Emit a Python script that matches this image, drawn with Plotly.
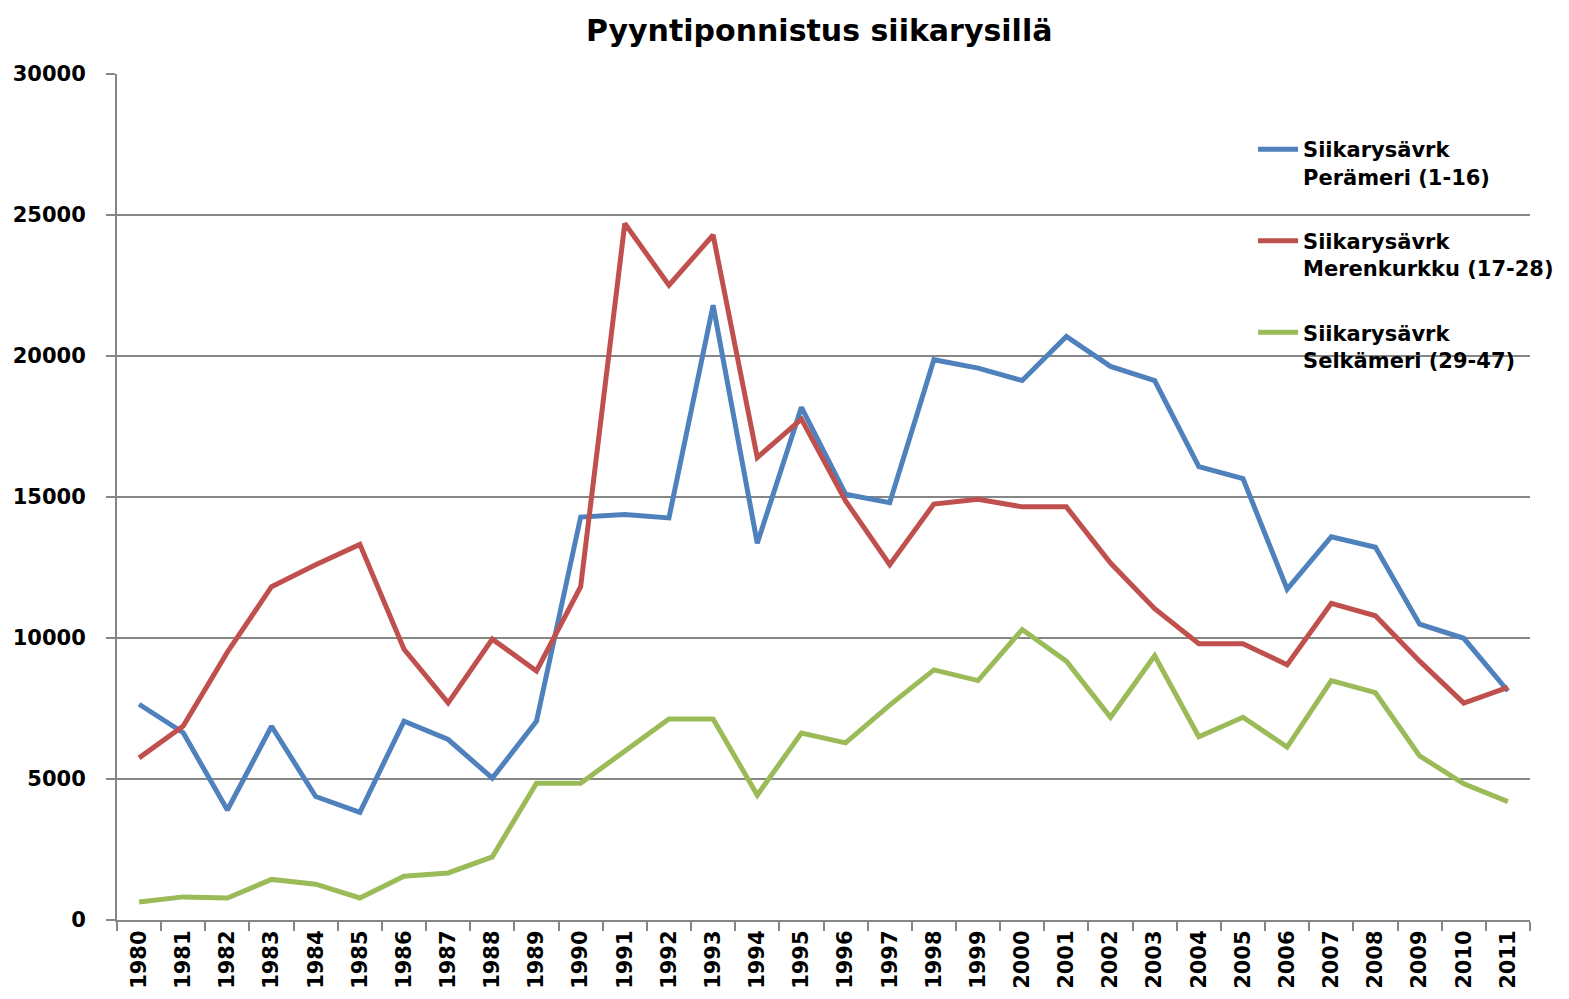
import plotly.graph_objects as go

years = [str(y) for y in range(1980, 2012)]

peramer = [7650, 6640, 3900, 6870, 4380, 3820, 7050, 6400, 5030, 7050,
           14290, 14380, 14260, 21800, 13360, 18180, 15100, 14800, 19870, 19570,
           19130, 20690, 19630, 19130, 16080, 15650, 11730, 13590, 13220, 10490,
           9990, 8120]
merenkurkku = [5750, 6880, 9500, 11820, 12600, 13320, 9600, 7700, 9960, 8830,
               11820, 24700, 22510, 24290, 16400, 17760, 14860, 12600, 14750, 14920,
               14650, 14650, 12660, 11040, 9800, 9800, 9050, 11230, 10790, 9180,
               7690, 8250]
selkameri = [640, 820, 780, 1440, 1270, 780, 1550, 1670, 2240, 4850,
             4850, 5990, 7130, 7130, 4430, 6630, 6280, 7620, 8870, 8490,
             10300, 9180, 7190, 9370, 6500, 7190, 6130, 8490, 8060, 5820,
             4830, 4200]

names = ["Siikarysävrk<br>Perämeri (1-16)",
         "Siikarysävrk<br>Merenkurkku (17-28)",
         "Siikarysävrk<br>Selkämeri (29-47)"]
colors = ["#4F81BD", "#C0504D", "#9BBB59"]
series = [peramer, merenkurkku, selkameri]

FONT = "DejaVu Sans"
fig = go.Figure()
for i, (nm, col, vals) in enumerate(zip(names, colors, series)):
    fig.add_trace(go.Scatter(x=years, y=vals, mode="lines", name=nm,
                             legendgroup=f"g{i}",
                             line=dict(color=col, width=5)))

fig.update_layout(
    template="none",
    width=1569, height=999,
    margin=dict(l=109, r=47, t=66, b=87, autoexpand=False),
    paper_bgcolor="white", plot_bgcolor="white",
    title=dict(text="<b>Pyyntiponnistus siikarysillä</b>",
               font=dict(family=FONT, size=30, color="black"),
               x=0.517, xanchor="center", y=0.977, yanchor="middle", yref="container"),
    legend=dict(x=0.804, y=0.935, xanchor="left", yanchor="top",
                bgcolor="rgba(0,0,0,0)", valign="top",
                font=dict(family=FONT, size=21, color="black", weight="bold"),
                tracegroupgap=34, itemwidth=40),
    showlegend=True,
)
fig.update_xaxes(type="category", range=[-0.5, 31.5], tickson="boundaries",
                 automargin=False,
                 ticks="outside", ticklen=9, tickcolor="#868686", tickwidth=2,
                 showline=True, linecolor="#868686", linewidth=2,
                 showgrid=False, zeroline=False, tickangle=-90,
                 tickfont=dict(family=FONT, size=21, color="black", weight="bold"))
fig.update_yaxes(range=[0, 30000], dtick=5000, tick0=0, tickformat="d",
                 automargin=False,
                 ticks="outside", ticklen=9, tickcolor="#868686", tickwidth=2,
                 showline=True, linecolor="#868686", linewidth=2,
                 showgrid=True, gridcolor="#868686", gridwidth=2,
                 zeroline=False, ticklabelstandoff=16,
                 tickfont=dict(family=FONT, size=21, color="black", weight="bold"))

fig.write_html("out.html")
